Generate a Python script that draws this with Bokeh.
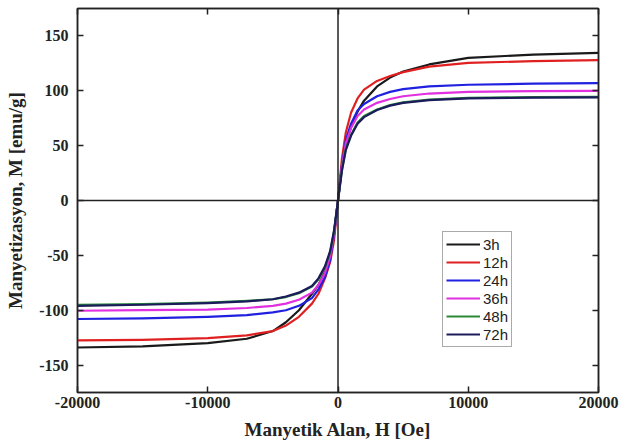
from bokeh.plotting import figure
from bokeh.models import Span, LinearAxis, Legend, LegendItem, FixedTicker, Range1d, CustomJSTickFormatter
from bokeh.embed import file_html
from bokeh.resources import INLINE

H = [-20000, -15000, -10000, -7000, -5000, -4000, -3000, -2000, -1500, -1000, -600, -300,
     0, 300, 600, 1000, 1500, 2000, 3000, 4000, 5000, 7000, 10000, 15000, 20000]

M_3h = [-134, -133, -130, -126, -119, -111, -100, -85, -77, -65, -50, -30,
        0, 31, 52, 67, 81, 91, 104, 112, 117.5, 124, 130, 133, 134.5]
M_12h = [-127.5, -127, -125.5, -123, -119, -114, -106, -94, -85, -71, -56, -36,
         0, 38, 62, 80, 93, 101, 109, 113.5, 117, 122, 125.5, 127, 128]
M_24h = [-108, -107.5, -106, -104.5, -102, -100, -96, -89, -81, -70, -54, -31,
         0, 32, 55, 70, 82, 88, 95, 99, 101.5, 104, 105.5, 106.5, 107]
M_36h = [-100.5, -100, -99.5, -98, -96, -94, -90.5, -84, -77, -66, -51, -30,
         0, 31, 52, 66, 77, 83, 89, 92.5, 95, 97.5, 99, 99.7, 100]
M_48h = [-95, -94.5, -93, -91.5, -90, -88, -84.5, -78.5, -72, -61, -47, -28,
         0, 28, 47, 60, 71, 77, 83, 87, 89.5, 92, 93.5, 94.3, 94.5]
M_72h = [-96, -95, -93.5, -92, -90, -87.5, -84, -78, -71, -60, -46, -27,
         0, 27, 46, 59, 70, 76, 82.5, 86.5, 89, 91.5, 93, 93.7, 94]

labels = ["3h", "12h", "24h", "36h", "48h", "72h"]
series = [M_3h, M_12h, M_24h, M_36h, M_48h, M_72h]
colors = ["#1a1a1a", "#e02020", "#2020e0", "#e030e0", "#2a8a3a", "#1c1c5c"]

x_ticks = [-20000, -10000, 0, 10000, 20000]
y_ticks = [-150, -100, -50, 0, 50, 100, 150]

FONT = "Liberation Serif"

p = figure(width=619, height=448, output_backend="svg", toolbar_location=None,
           x_range=Range1d(-20000, 20000), y_range=Range1d(-175, 175),
           min_border_left=77, min_border_right=21, min_border_top=8, min_border_bottom=56)
p.grid.visible = False
p.outline_line_color = "#222222"
p.outline_line_width = 1.5
p.background_fill_color = "white"
p.border_fill_color = "white"

def style_axis(ax, show_labels=True):
    ax.major_tick_in = 6
    ax.major_tick_out = 0
    ax.minor_tick_line_color = None
    ax.axis_line_color = "#222222"
    ax.axis_line_width = 1.5
    ax.major_tick_line_color = "#222222"
    ax.major_tick_line_width = 1.5
    ax.major_label_text_font = FONT
    ax.major_label_text_font_style = "bold"
    ax.major_label_text_font_size = "16px"
    ax.major_label_text_color = "#222222"
    ax.axis_label_text_font = FONT
    ax.axis_label_text_font_style = "bold"
    ax.axis_label_text_font_size = "19px"
    ax.axis_label_text_color = "#222222"
    if show_labels:
        ax.formatter = CustomJSTickFormatter(code="return tick.toString();")
    else:
        ax.formatter = CustomJSTickFormatter(code="return '';")
        ax.major_label_standoff = 0

p.xaxis.ticker = FixedTicker(ticks=x_ticks)
p.yaxis.ticker = FixedTicker(ticks=y_ticks)
style_axis(p.xaxis[0])
style_axis(p.yaxis[0])
p.xaxis.axis_label = "Manyetik Alan, H [Oe]"
p.yaxis.axis_label = "Manyetizasyon, M [emu/g]"
p.xaxis.major_label_standoff = 4
p.yaxis.major_label_standoff = 9
p.xaxis.axis_label_standoff = 8
p.yaxis.axis_label_standoff = 10

ax_r = LinearAxis(ticker=FixedTicker(ticks=y_ticks))
style_axis(ax_r, False)
p.add_layout(ax_r, "right")
ax_t = LinearAxis(ticker=FixedTicker(ticks=x_ticks))
style_axis(ax_t, False)
p.add_layout(ax_t, "above")

p.add_layout(Span(location=0, dimension="width", line_color="#222222", line_width=1.5))
p.add_layout(Span(location=0, dimension="height", line_color="#222222", line_width=1.5))

items = []
for lab, m, c in zip(labels, series, colors):
    r = p.line(H, m, line_color=c, line_width=2.2, line_join="round")
    items.append(LegendItem(label=lab, renderers=[r]))

legend = Legend(items=items, location=(365, 45), padding=3, spacing=0, margin=0,
                label_height=18, glyph_height=18, glyph_width=34, label_standoff=3,
                label_text_font="Liberation Sans", label_text_font_size="15px",
                label_text_color="#222222",
                border_line_color="#555555", border_line_width=1.5,
                background_fill_color="white", background_fill_alpha=1)
p.add_layout(legend, "center")

open("out.html", "w").write(file_html(p, INLINE))
